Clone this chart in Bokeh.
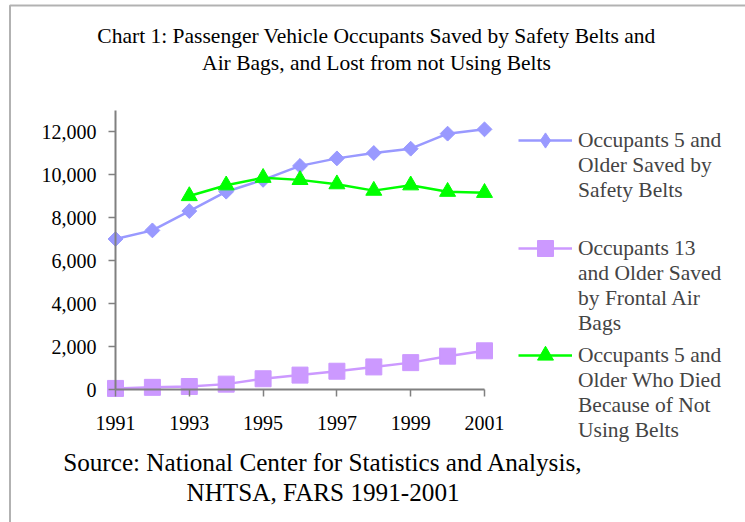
import numpy as np
from bokeh.plotting import figure
from bokeh.models import (Range1d, FixedTicker, NumeralTickFormatter, Legend,
                          LegendItem, Label, LinearAxis, BoxAnnotation)
from bokeh.embed import file_html
from bokeh.resources import INLINE

# ---- data ----
years = [1991, 1992, 1993, 1994, 1995, 1996, 1997, 1998, 1999, 2000, 2001]
belts_saved = [7000, 7400, 8300, 9200, 9750, 10400, 10750, 11000, 11200, 11900, 12100]
airbags_saved = [50, 100, 140, 250, 500, 670, 850, 1050, 1250, 1550, 1800]
died_years = [1993, 1994, 1995, 1996, 1997, 1998, 1999, 2000, 2001]
died_unbelted = [9000, 9500, 9850, 9750, 9550, 9250, 9500, 9200, 9150]

x_ticks = [1991, 1993, 1995, 1997, 1999, 2001]
y_ticks = [0, 2000, 4000, 6000, 8000, 10000, 12000]

title_lines = ["Chart 1: Passenger Vehicle Occupants Saved by Safety Belts and",
               "Air Bags, and Lost from not Using Belts"]
source_lines = ["Source: National Center for Statistics and Analysis,",
                "NHTSA, FARS 1991-2001"]
legend_labels = [["Occupants 5 and", "Older Saved by", "Safety Belts"],
                 ["Occupants 13", "and Older Saved", "by Frontal Air", "Bags"],
                 ["Occupants 5 and", "Older Who Died", "Because of Not", "Using Belts"]]

BLUE = "#9999FF"
PURPLE = "#CC99FF"
GREEN = "#00FF00"
FONT = "Liberation Serif"

W, H = 745, 522
# pixel layout of the plotting area (canvas px, origin top-left)
X0_PX, X1_PX = 115.0, 484.0     # 1991, 2001
Y0_PX, Y1_PX = 389.0, 131.0     # 0, 12000
ppx = (X1_PX - X0_PX) / (2001 - 1991)
ppy = (Y0_PX - Y1_PX) / 12000
x_range = Range1d(1991 - X0_PX / ppx, 1991 + (W - X0_PX) / ppx)
y_range = Range1d(-(H - Y0_PX) / ppy, Y0_PX / ppy)

p = figure(frame_width=W, frame_height=H, min_border=0,
           x_range=x_range, y_range=y_range,
           x_axis_location=None, y_axis_location=None,
           output_backend="svg", toolbar_location=None)
p.outline_line_color = None
p.background_fill_color = "white"
p.border_fill_color = "white"
p.grid.visible = False

xaxis = LinearAxis(fixed_location=0, bounds=(1991, 2001),
                   ticker=FixedTicker(ticks=x_ticks))
yaxis = LinearAxis(fixed_location=1991, bounds=(0, 13000),
                   ticker=FixedTicker(ticks=y_ticks),
                   formatter=NumeralTickFormatter(format="0,0"))
for ax in (xaxis, yaxis):
    ax.axis_line_color = "#808080"
    ax.axis_line_width = 2
    ax.major_tick_line_color = "#808080"
    ax.major_tick_line_width = 1.5
    ax.major_tick_in = 0
    ax.major_tick_out = 7
    ax.minor_tick_line_color = None
    ax.major_label_text_font = FONT
    ax.major_label_text_font_size = "20px"
    ax.major_label_text_color = "black"
xaxis.major_label_standoff = 19
yaxis.major_label_standoff = 12
p.add_layout(xaxis, "below")
p.add_layout(yaxis, "left")

l1 = p.line(years, belts_saved, line_color=BLUE, line_width=2.5)
# upright diamond used for the legend swatch (hidden beneath the rotated squares)
s1_leg = p.scatter(years, belts_saved, marker="diamond", size=13,
                   fill_color=BLUE, line_color=BLUE)
s1 = p.scatter(years, belts_saved, marker="square", angle=np.pi / 4, size=10.5,
               fill_color=BLUE, line_color=BLUE)
l2 = p.line(years, airbags_saved, line_color=PURPLE, line_width=2.5)
s2 = p.scatter(years, airbags_saved, marker="square", size=16,
               fill_color=PURPLE, line_color=PURPLE)
l3 = p.line(died_years, died_unbelted, line_color=GREEN, line_width=2.5)
s3 = p.scatter(died_years, died_unbelted, marker="triangle", size=16,
               fill_color=GREEN, line_color=GREEN)

LH = 25.0  # legend text line spacing
first_line_y = [140, 248, 355]
glyph_heights = [38, 40, 40]
for lines, rends, cy, gh in zip(legend_labels, [[l1, s1_leg], [l2, s2], [l3, s3]],
                                first_line_y, glyph_heights):
    n = len(lines)
    # pad with blank lines above so the glyph sits level with the first text line
    label = "\n" * (n - 1) + "\n".join(lines)
    total = 2 * n - 1
    bottom = cy + total * LH / 2
    leg = Legend(items=[LegendItem(label=label, renderers=rends)],
                 location=(518, H - bottom), orientation="vertical",
                 border_line_color=None, background_fill_alpha=0,
                 padding=0, margin=0, spacing=0,
                 glyph_width=54, glyph_height=gh, label_standoff=6,
                 label_text_font=FONT, label_text_font_size="21.5px",
                 label_height=25)
    p.add_layout(leg)

for txt, cy in zip(title_lines, [35, 62]):
    p.add_layout(Label(x=376, y=H - cy, x_units="screen", y_units="screen",
                       text=txt, text_font=FONT, text_font_size="21.5px",
                       text_align="center", text_baseline="middle", text_color="black"))
for txt, cy in zip(source_lines, [462, 492]):
    p.add_layout(Label(x=322.5, y=H - cy, x_units="screen", y_units="screen",
                       text=txt, text_font=FONT, text_font_size="25.2px",
                       text_align="center", text_baseline="middle", text_color="black"))

p.add_layout(BoxAnnotation(left=9.5, right=3000, top=H - 5, bottom=-3000,
                           left_units="screen", right_units="screen",
                           top_units="screen", bottom_units="screen",
                           fill_color=None, fill_alpha=0,
                           line_color="black", line_width=2))

open("out.html", "w").write(file_html(p, INLINE))
